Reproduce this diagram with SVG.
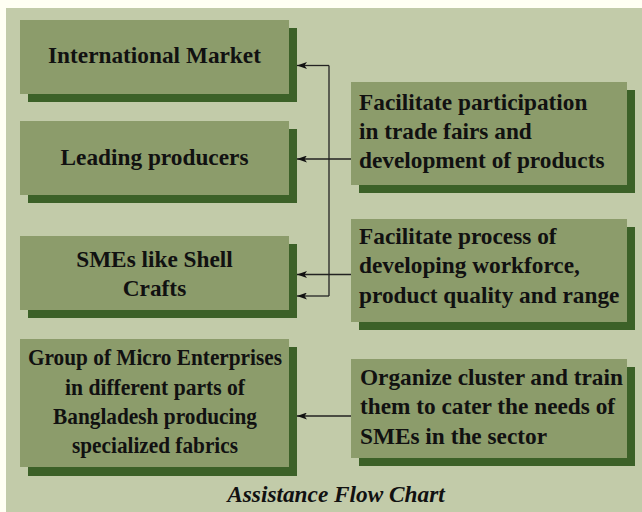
<svg xmlns="http://www.w3.org/2000/svg" width="642" height="512" viewBox="0 0 642 512">
  <defs>
    <style>
      .shadow { fill: #3c6128; }
      .box { fill: #8c9c6b; }
      .lbl { font-family: "Liberation Serif", "Times New Roman", serif; font-weight: bold; font-size: 23.3px; fill: #111111; }
      .mid { text-anchor: middle; }
      .title { font-family: "Liberation Serif", "Times New Roman", serif; font-weight: bold; font-style: italic; font-size: 23.3px; fill: #111111; text-anchor: middle; }
      .wire { fill: none; stroke: #222222; stroke-width: 1.3; }
    </style>
    <marker id="arrow" viewBox="0 0 10 7" refX="10" refY="3.5" markerWidth="10" markerHeight="7" markerUnits="userSpaceOnUse" orient="auto">
      <path d="M0,0 L10,3.5 L0,7 L2.5,3.5 Z" fill="#111111"/>
    </marker>
  </defs>

  <!-- page and panel -->
  <rect x="0" y="0" width="642" height="512" fill="#fffff3"/>
  <rect x="6" y="8" width="636" height="504" fill="#c2cba9"/>

  <!-- left column -->
  <g id="international-market">
    <rect class="shadow" x="28" y="28" width="269" height="74"/>
    <rect class="box" x="20" y="20" width="269" height="74"/>
    <text class="lbl mid" x="154.5" y="63">International Market</text>
  </g>
  <g id="leading-producers">
    <rect class="shadow" x="28" y="129" width="269" height="74"/>
    <rect class="box" x="20" y="121" width="269" height="74"/>
    <text class="lbl mid" x="154.5" y="165">Leading producers</text>
  </g>
  <g id="smes">
    <rect class="shadow" x="28" y="244" width="269" height="74"/>
    <rect class="box" x="20" y="236" width="269" height="74"/>
    <text class="lbl mid" x="154.5" y="267">SMEs like Shell</text>
    <text class="lbl mid" x="154.5" y="296">Crafts</text>
  </g>
  <g id="micro-enterprises">
    <rect class="shadow" x="28" y="347" width="269" height="129"/>
    <rect class="box" x="20" y="339" width="269" height="128"/>
    <text class="lbl mid" x="155" y="365" textLength="254" lengthAdjust="spacingAndGlyphs">Group of Micro Enterprises</text>
    <text class="lbl mid" x="155" y="394.5" textLength="180" lengthAdjust="spacingAndGlyphs">in different parts of</text>
    <text class="lbl mid" x="155" y="424" textLength="204" lengthAdjust="spacingAndGlyphs">Bangladesh producing</text>
    <text class="lbl mid" x="155" y="453" textLength="166" lengthAdjust="spacingAndGlyphs">specialized fabrics</text>
  </g>

  <!-- right column -->
  <g id="trade-fairs">
    <rect class="shadow" x="359" y="90" width="276" height="103"/>
    <rect class="box" x="351" y="82" width="276" height="103"/>
    <text class="lbl" x="359" y="110">Facilitate participation</text>
    <text class="lbl" x="359" y="139">in trade fairs and</text>
    <text class="lbl" x="359" y="168">development of products</text>
  </g>
  <g id="workforce">
    <rect class="shadow" x="359" y="227" width="276" height="103"/>
    <rect class="box" x="351" y="219" width="276" height="103"/>
    <text class="lbl" x="359" y="244">Facilitate process of</text>
    <text class="lbl" x="359" y="273">developing workforce,</text>
    <text class="lbl" x="359" y="303">product quality and range</text>
  </g>
  <g id="cluster">
    <rect class="shadow" x="359" y="367" width="276" height="99"/>
    <rect class="box" x="351" y="359" width="276" height="99"/>
    <text class="lbl" x="360" y="385">Organize cluster and train</text>
    <text class="lbl" x="360" y="414">them to cater the needs of</text>
    <text class="lbl" x="360" y="444">SMEs in the sector</text>
  </g>

  <!-- connectors -->
  <g id="connectors">
    <line class="wire" x1="329" y1="65.5" x2="329" y2="296"/>
    <line class="wire" x1="329" y1="65.5" x2="297" y2="65.5" marker-end="url(#arrow)"/>
    <line class="wire" x1="329" y1="296" x2="297" y2="296" marker-end="url(#arrow)"/>
    <line class="wire" x1="351" y1="159" x2="297" y2="159" marker-end="url(#arrow)"/>
    <line class="wire" x1="351" y1="274.5" x2="297" y2="274.5" marker-end="url(#arrow)"/>
    <line class="wire" x1="351" y1="416" x2="297" y2="416" marker-end="url(#arrow)"/>
  </g>

  <text class="title" x="336" y="502">Assistance Flow Chart</text>
</svg>
